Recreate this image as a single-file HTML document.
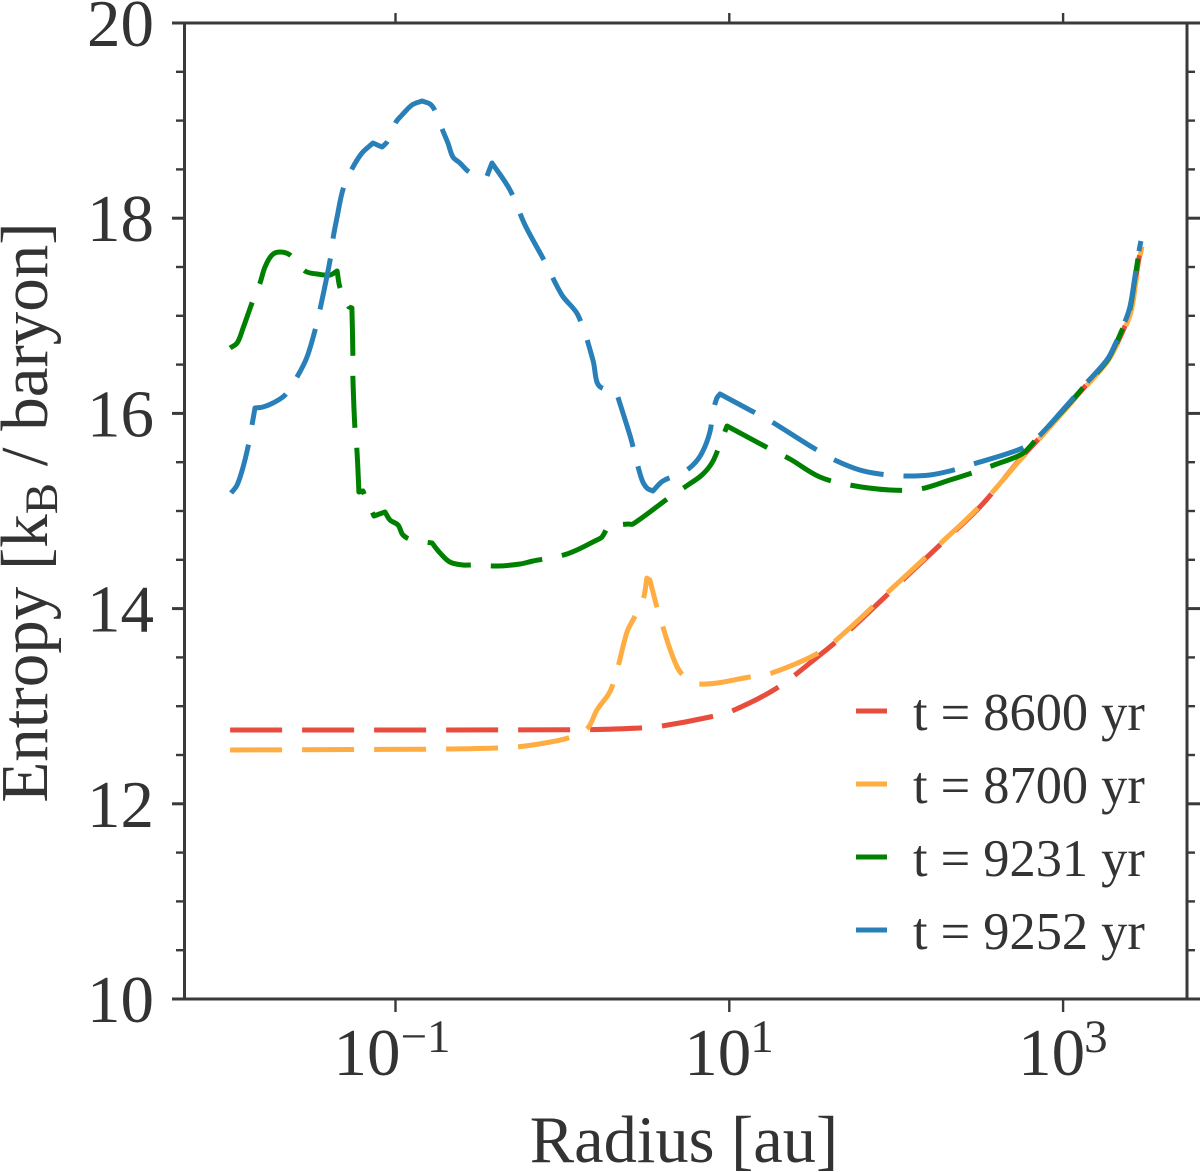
<!DOCTYPE html>
<html lang="en">
<head>
<meta charset="utf-8">
<title>Entropy vs Radius</title>
<style>
html,body{margin:0;padding:0;background:#fff;}
svg{display:block;}
text{font-family:"Liberation Serif",serif;fill:#333;}
</style>
</head>
<body>
<svg id="chart" xmlns="http://www.w3.org/2000/svg" width="1200" height="1172" viewBox="0 0 1200 1172">
  <text x="684" y="1162" font-size="66.5" text-anchor="middle">Radius [au]</text>
  <text transform="translate(47,512.5) rotate(-90)" font-size="67" text-anchor="middle">Entropy [k<tspan font-size="47" dy="10">B</tspan><tspan dy="-10"> / baryon]</tspan></text>
</svg>
<script>
// Radius values are log10(au); entropy values are kB / baryon.
const yMajorTicks = [10, 12, 14, 16, 18, 20];
const yMinorTicks = [10.5, 11, 11.5, 12.5, 13, 13.5, 14.5, 15, 15.5, 16.5, 17, 17.5, 18.5, 19, 19.5];
const xMajorExponents = [-1, 1, 3];
const xMajorLabels = ['\u22121', '1', '3'];

const legendLabels = ['t = 8600 yr', 't = 8700 yr', 't = 9231 yr', 't = 9252 yr'];
const seriesNames = ['t-8600', 't-8700', 't-9231', 't-9252'];
const seriesColors = ['#e74c3c', '#ffad42', '#008000', '#2980b9'];

const radius8600 = [-1.991,0.165,0.465,0.596,0.884,1.016,1.285,1.543,1.722,1.932,2.262,2.501,2.753,2.831,3.04,3.118,3.262,3.313,3.362,3.404,3.434,3.452,3.47];
const entropy8600 = [12.756,12.76,12.777,12.797,12.889,12.951,13.186,13.525,13.781,14.119,14.652,15.041,15.553,15.697,16.097,16.25,16.53,16.68,16.86,17.05,17.36,17.56,17.72];

const radius8700 = [-1.991,-1.255,-0.692,-0.392,-0.272,-0.104,0.033,0.147,0.207,0.273,0.297,0.333,0.387,0.429,0.483,0.506,0.524,0.566,0.602,0.662,0.716,0.824,1.123,1.255,1.543,1.722,1.932,2.262,2.501,2.753,2.843,3.04,3.118,3.262,3.313,3.364,3.407,3.437,3.455,3.473];
const entropy8700 = [12.551,12.556,12.561,12.572,12.582,12.623,12.674,12.766,12.961,13.115,13.197,13.402,13.76,13.904,14.088,14.313,14.293,14.016,13.811,13.504,13.33,13.227,13.299,13.34,13.555,13.801,14.139,14.662,15.051,15.543,15.71,16.09,16.24,16.52,16.67,16.85,17.04,17.35,17.55,17.71];

const radius9231 = [-1.991,-1.949,-1.913,-1.86,-1.812,-1.782,-1.74,-1.692,-1.632,-1.542,-1.47,-1.392,-1.35,-1.332,-1.279,-1.261,-1.255,-1.255,-1.243,-1.231,-1.219,-1.195,-1.183,-1.129,-1.063,-1.033,-0.985,-0.955,-0.901,-0.781,-0.733,-0.674,-0.596,-0.524,-0.392,-0.254,-0.176,0.027,0.207,0.237,0.273,0.393,0.423,0.644,0.752,0.836,0.896,0.938,0.986,1.255,1.363,1.543,1.722,1.962,2.142,2.322,2.471,2.603,2.753,2.831,3.04,3.118,3.262,3.31,3.358,3.4,3.43,3.448,3.466];
const entropy9231 = [16.67,16.721,16.875,17.131,17.336,17.5,17.623,17.654,17.623,17.459,17.428,17.418,17.459,17.285,17.09,17.08,16.578,16.363,15.85,15.625,15.195,15.205,15.154,14.949,14.99,14.908,14.857,14.754,14.703,14.672,14.57,14.477,14.447,14.447,14.436,14.457,14.488,14.559,14.703,14.734,14.846,14.867,14.867,15.143,15.266,15.369,15.492,15.656,15.871,15.625,15.533,15.348,15.266,15.215,15.225,15.318,15.4,15.482,15.584,15.717,16.107,16.26,16.537,16.691,16.875,17.07,17.38,17.58,17.74];

const radius9252 = [-1.985,-1.949,-1.913,-1.884,-1.86,-1.842,-1.794,-1.734,-1.662,-1.59,-1.53,-1.482,-1.452,-1.392,-1.374,-1.35,-1.314,-1.261,-1.201,-1.135,-1.081,-1.051,-0.997,-0.961,-0.901,-0.841,-0.793,-0.769,-0.721,-0.686,-0.656,-0.614,-0.566,-0.494,-0.452,-0.422,-0.314,-0.224,-0.104,-0.003,0.093,0.183,0.207,0.237,0.321,0.357,0.411,0.441,0.477,0.506,0.542,0.602,0.716,0.782,0.836,0.884,0.902,0.926,0.944,1.123,1.237,1.495,1.633,1.782,1.902,2.052,2.202,2.322,2.441,2.729,2.831,3.04,3.118,3.262,3.31,3.358,3.4,3.43,3.448,3.466];
const entropy9252 = [15.184,15.266,15.451,15.656,15.881,16.055,16.066,16.107,16.188,16.373,16.578,16.855,17.07,17.572,17.797,18.012,18.299,18.504,18.668,18.77,18.729,18.781,18.986,19.057,19.16,19.201,19.17,19.119,18.914,18.77,18.627,18.566,18.484,18.412,18.432,18.566,18.289,17.93,17.551,17.213,17.008,16.547,16.322,16.26,16.229,16.035,15.738,15.533,15.318,15.236,15.205,15.307,15.389,15.471,15.594,15.809,16.014,16.158,16.199,16.035,15.932,15.656,15.522,15.42,15.379,15.359,15.369,15.41,15.471,15.625,15.727,16.117,16.27,16.547,16.701,16.885,17.09,17.398,17.602,17.766];

const radiusSeries = [radius8600, radius8700, radius9231, radius9252];
const entropySeries = [entropy8600, entropy8700, entropy9231, entropy9252];

const NS = 'http://www.w3.org/2000/svg';
const svg = document.getElementById('chart');
const plot = {left: 184.5, right: 1187, top: 23, bottom: 999};
const ink = '#3a3a3a';

function xScale(logR) { return 395.5 + (logR + 1) * 166.9; }
function yScale(s) { return plot.bottom - (s - 10) * (plot.bottom - plot.top) / 10; }

function make(tag, attrs) {
  const el = document.createElementNS(NS, tag);
  for (const k in attrs) el.setAttribute(k, attrs[k]);
  svg.appendChild(el);
  return el;
}

function unit(a, b) {
  const dx = b[0] - a[0], dy = b[1] - a[1], n = Math.hypot(dx, dy) || 1;
  return [dx / n, dy / n];
}

// Smooth path through the scaled points; bends sharper than about 40 degrees stay as real corners.
function smoothPath(pts) {
  const last = pts.length - 1;
  function tangent(i, side) {
    if (i === 0) return unit(pts[0], pts[1]);
    if (i === last) return unit(pts[last - 1], pts[last]);
    const inDir = unit(pts[i - 1], pts[i]), outDir = unit(pts[i], pts[i + 1]);
    if (inDir[0] * outDir[0] + inDir[1] * outDir[1] < 0.77) return side === 'in' ? inDir : outDir;
    return unit(pts[i - 1], pts[i + 1]);
  }
  let d = 'M' + pts[0][0].toFixed(1) + ' ' + pts[0][1].toFixed(1);
  for (let i = 0; i < last; i++) {
    const p = pts[i], q = pts[i + 1];
    const len = Math.hypot(q[0] - p[0], q[1] - p[1]) / 3;
    const t0 = tangent(i, 'out'), t1 = tangent(i + 1, 'in');
    d += 'C' + (p[0] + t0[0] * len).toFixed(1) + ' ' + (p[1] + t0[1] * len).toFixed(1) +
         ' ' + (q[0] - t1[0] * len).toFixed(1) + ' ' + (q[1] - t1[1] * len).toFixed(1) +
         ' ' + q[0].toFixed(1) + ' ' + q[1].toFixed(1);
  }
  return d;
}

// y ticks, both sides
yMajorTicks.forEach(function (v) {
  const l = make('line', {x1: 172, x2: plot.left, y1: yScale(v), y2: yScale(v), stroke: ink, 'stroke-width': 3});
  
  
  const r = make('line', {x1: plot.right, x2: 1200, y1: yScale(v), y2: yScale(v), stroke: ink, 'stroke-width': 3});
  
  
  const t = make('text', {x: 154, y: yScale(v) + 23, 'font-size': 67, 'text-anchor': 'end'});
  t.textContent = String(v);
  
  
});
yMinorTicks.forEach(function (v) {
  const l = make('line', {x1: 176, x2: plot.left, y1: yScale(v), y2: yScale(v), stroke: ink, 'stroke-width': 2.4});
  
  
  const r = make('line', {x1: plot.right, x2: 1195, y1: yScale(v), y2: yScale(v), stroke: ink, 'stroke-width': 2.4});
  
  
});

// x ticks, both sides
xMajorExponents.forEach(function (e, i) {
  const x = xScale(e);
  const negative = e < 0;
  const b = make('line', {x1: x, x2: x, y1: plot.bottom, y2: 1012, stroke: ink, 'stroke-width': 2.4});
  
  
  const t = make('line', {x1: x, x2: x, y1: 13, y2: plot.top, stroke: ink, 'stroke-width': 2.4});
  
  
  const base = make('text', {x: x + (negative ? -62 : -45), y: 1075, 'font-size': 67});
  base.textContent = '10';
  
  
  const exp = make('text', {x: x + (negative ? 5 : 21), y: 1052, 'font-size': 47});
  exp.textContent = xMajorLabels[i];
  
  
});

// spines
const spines = make('rect', {x: plot.left, y: plot.top, width: plot.right - plot.left, height: plot.bottom - plot.top, fill: 'none', stroke: ink, 'stroke-width': 3});



// series
radiusSeries.forEach(function (xs, i) {
  const pts = xs.map(function (x, j) {
    return [xScale(x), yScale(entropySeries[i][j])];
  });
  const line = make('path', {
    d: smoothPath(pts), fill: 'none', stroke: seriesColors[i], 'stroke-width': 5,
    'stroke-dasharray': '52 20', 'stroke-linejoin': 'round', 'stroke-linecap': 'butt'
  });
  
  
});

// legend
legendLabels.forEach(function (label, i) {
  const yLine = 711 + i * 73;
  const h = make('line', {x1: 856, x2: 887, y1: yLine, y2: yLine, stroke: seriesColors[i], 'stroke-width': 5});
  
  
  const t = make('text', {x: 913, y: yLine + 19, 'font-size': 52.4});
  t.textContent = label;
  
  
});
</script>
</body>
</html>
